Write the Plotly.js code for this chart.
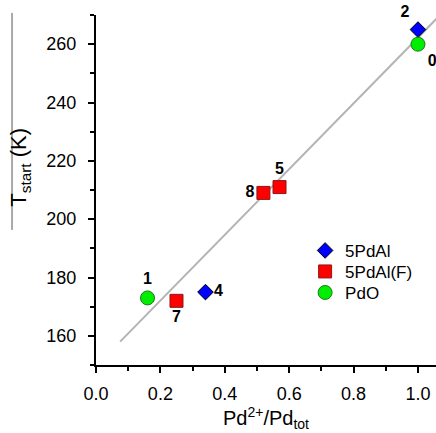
<!DOCTYPE html>
<html>
<head>
<meta charset="utf-8">
<script src="https://cdn.plot.ly/plotly-3.0.1.min.js"></script>
<style>html,body{margin:0;padding:0;background:#fff;}#chart{width:436px;height:433px;}</style>
</head>
<body>
<div id="chart"></div>
<script>
// Data
const alX = [1.0, 0.34];
const alY = [265, 175];
const alLabels = ['2', '4'];
const alPos = ['top left', 'middle right'];

const fX = [0.25, 0.52, 0.57];
const fY = [172, 209, 211];
const fLabels = ['7', '8', '5'];
const fPos = ['bottom center', 'middle left', 'top center'];

const pdoX = [0.16, 1.0];
const pdoY = [173, 260];
const pdoLabels = ['1', '0'];
const pdoPos = ['top center', 'bottom right'];

const fitX = [0.075, 1.06];
const fitY = [158, 269];

const xTicks = [0, 0.2, 0.4, 0.6, 0.8, 1.0];
const xTickText = ['0.0', '0.2', '0.4', '0.6', '0.8', '1.0'];
const yTicks = [160, 180, 200, 220, 240, 260];

const FONT = 'Liberation Sans, Arial, sans-serif';
const labelFont = {family: FONT, size: 16, color: '#000', weight: 'bold'};

const traces = [
  {x: fitX, y: fitY, mode: 'lines', line: {color: '#b4b4b4', width: 2}, showlegend: false, hoverinfo: 'skip'},
  {x: alX, y: alY, name: '5PdAl', mode: 'markers+text', text: alLabels, textposition: alPos,
   textfont: labelFont, cliponaxis: false, legend: 'legend',
   marker: {symbol: 'diamond', size: 12, color: '#0000ff', line: {color: '#000', width: 1}}},
  {x: fX, y: fY, name: '5PdAl(F)', mode: 'markers+text', text: fLabels, textposition: fPos,
   textfont: labelFont, cliponaxis: false, legend: 'legend2',
   marker: {symbol: 'square', size: 13, color: '#ff0000', line: {color: '#8b1a1a', width: 1}}},
  {x: pdoX, y: pdoY, name: 'PdO', mode: 'markers+text', text: pdoLabels, textposition: pdoPos,
   textfont: labelFont, cliponaxis: false, legend: 'legend3',
   marker: {symbol: 'circle', size: 14, color: '#00ee00', line: {color: '#1a7a1a', width: 1}}}
];

function legendAt(y) {
  return {
    x: 0.615, y: y, xanchor: 'left', yanchor: 'middle',
    bgcolor: 'rgba(0,0,0,0)', borderwidth: 0,
    font: {family: FONT, size: 17, color: '#000'},
    itemwidth: 30
  };
}

const layout = {
  width: 436, height: 433,
  margin: {l: 96, r: 0, t: 15, b: 68},
  paper_bgcolor: '#fff', plot_bgcolor: '#fff',
  font: {family: FONT, color: '#000'},
  xaxis: {
    range: [0, 1.056], showgrid: false, zeroline: false,
    showline: true, linecolor: '#000', linewidth: 2,
    ticks: 'outside', ticklen: 6, tickwidth: 2, tickcolor: '#000',
    tickvals: xTicks, ticktext: xTickText, ticklabelstandoff: 5,
    tickfont: {family: FONT, size: 18, color: '#000'},
    minor: {dtick: 0.1, tick0: 0, ticks: 'outside', ticklen: 4, tickwidth: 2, tickcolor: '#000', showgrid: false},
    title: {text: 'Pd<sup>2+</sup>/Pd<sub>tot</sub>', font: {family: FONT, size: 20, color: '#000'}, standoff: 8}
  },
  yaxis: {
    range: [150, 270], showgrid: false, zeroline: false,
    showline: true, linecolor: '#000', linewidth: 2,
    ticks: 'outside', ticklen: 6, tickwidth: 2, tickcolor: '#000',
    tickvals: yTicks, ticklabelstandoff: 8,
    tickfont: {family: FONT, size: 18, color: '#000'},
    minor: {dtick: 10, tick0: 150, ticks: 'outside', ticklen: 4, tickwidth: 2, tickcolor: '#000', showgrid: false}
  },
  annotations: [
    {text: 'T<sub>start</sub> (K)', xref: 'paper', yref: 'paper', x: -0.222, y: 0.565,
     xanchor: 'center', yanchor: 'middle', textangle: -90, showarrow: false,
     font: {family: FONT, size: 22, color: '#000'}}
  ],
  shapes: [
    {type: 'line', xref: 'paper', yref: 'paper', x0: -0.247, x1: -0.247, y0: 0.386, y1: 1.006,
     line: {color: '#555', width: 1}}
  ],
  legend: legendAt(0.326),
  legend2: legendAt(0.266),
  legend3: legendAt(0.206),
  showlegend: true
};

Plotly.newPlot('chart', traces, layout, {displayModeBar: false, staticPlot: true});
</script>
</body>
</html>
